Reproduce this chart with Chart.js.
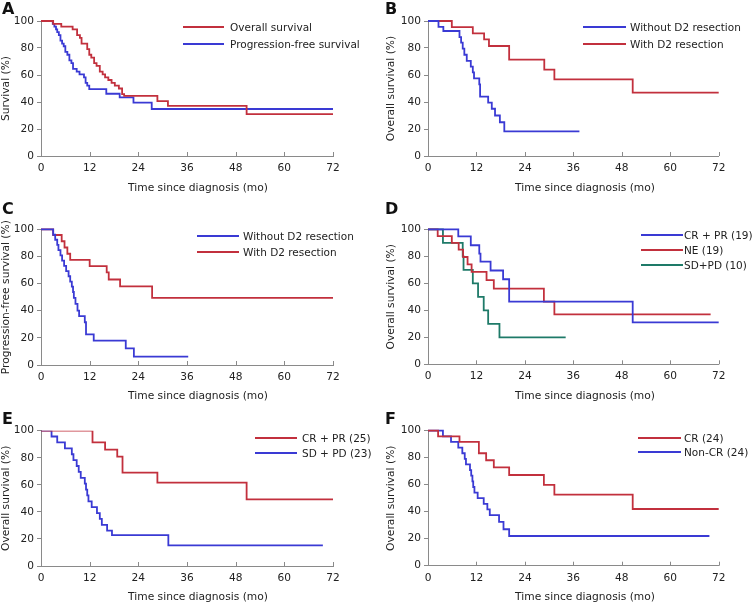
<!DOCTYPE html>
<html>
<head>
<meta charset="utf-8">
<script src="https://cdn.jsdelivr.net/npm/chart.js@4.4.0/dist/chart.umd.min.js"></script>
<style>
  body { margin: 0; background: #fff; }
  #fig { position: relative; width: 755px; height: 607px; font-family: "DejaVu Sans", Verdana, sans-serif; color: #222; overflow: hidden; }
  #fig canvas { position: absolute; }
  .lbl { position: absolute; font-weight: bold; font-size: 16px; line-height: 16px; color: #111; }
  .xt { position: absolute; font-size: 10.7px; line-height: 14px; white-space: nowrap; transform: translateX(-50%); }
  .lg { position: absolute; font-size: 10.5px; line-height: 14px; white-space: nowrap; }
  .sw { position: absolute; height: 2px; }
</style>
</head>
<body>
<div id="fig"></div>
<script>
// tick labels
const monthTicks = [0, 12, 24, 36, 48, 60, 72];
const survTicks = [0, 20, 40, 60, 80, 100];

// A - all patients: [month, survival %]
const osAll = [[0,100],[3,97.9],[5,95.8],[7.8,93.8],[8.9,89.6],[9.6,87.5],[10,83.3],[11.4,79.2],[11.9,75],[12.4,72.9],[13.1,68.8],[13.7,66.7],[14.5,62.5],[15.2,60.4],[15.8,58.3],[16.6,56.3],[17.4,54.2],[18.2,52.1],[19.2,50],[20,45.8],[20.5,44.5],[28.7,40.7],[31.3,37.1],[50.7,31],[72,31]];
const pfsAll = [[0,100],[2.9,97.9],[3.3,95.8],[3.7,93.8],[4,91.7],[4.4,89.6],[4.8,85.4],[5.2,83.3],[5.6,81.3],[6,77.1],[6.5,75],[7,70.8],[7.5,68.8],[7.9,64.6],[8.8,62.5],[9.5,60.4],[10.6,58.3],[11,54.2],[11.4,52.1],[11.9,49.6],[16.1,46.1],[19.4,43.5],[22.8,39.5],[27.3,34.8],[72,34.8]];

// B - overall survival by D2 resection
const osNoD2 = [[0,100],[2.6,95.7],[3.8,92.6],[7.8,88],[8.2,84],[8.6,79.5],[9,75],[9.6,70.5],[10.6,66.2],[11.1,62],[11.4,57.5],[12.7,53],[12.9,44],[14.9,39.5],[15.8,35],[16.6,30],[17.8,25],[18.9,18.3],[37.5,18.3]];
const osD2 = [[0,100],[5.9,95.5],[11.1,90.9],[13.9,86.4],[15.1,81.5],[20.1,71.4],[28.8,64],[31.3,56.8],[50.7,47],[72,47]];

// C - progression-free survival by D2 resection
const pfsNoD2 = [[0,100],[3,96],[3.5,92.3],[4,88.5],[4.3,84.6],[4.8,80.8],[5.2,76.9],[5.7,73.1],[6.2,69.2],[6.8,65.4],[7.2,61.5],[7.6,57.7],[7.9,53.8],[8.1,49.5],[8.5,45],[9,40],[9.4,36],[10.8,31.5],[11.1,22.5],[13,18],[20.9,12.2],[22.9,6.2],[36.3,6.2]];
const pfsD2 = [[0,100],[3,95.8],[5.1,91.2],[5.8,86.6],[6.5,82],[7.2,77.4],[12,72.8],[16.2,68.2],[16.7,63],[19.5,58],[27.4,49.5],[72,49.5]];

// D - response groups
const osCrPr19 = [[0,100],[7.5,94.7],[10.6,88.2],[12.7,82],[13,76],[15.5,69.5],[18.6,63],[20.1,46.5],[50.7,31],[72,31]];
const osNe19 = [[0,100],[2.4,95],[5.9,90],[7.6,85],[8.7,79.5],[9.8,74],[10.8,68.4],[14.5,62.3],[16.3,56],[28.7,46.5],[31.3,37],[70,37]];
const osSdPd10 = [[0,100],[3.7,90],[8.6,80],[8.8,70],[11.1,60],[12.4,50],[13.8,40],[14.9,30],[17.7,20],[34.1,20]];

// E
const osCrPr25 = [[0,100],[12.7,91.3],[15.8,86],[18.8,80.8],[20.1,69],[28.7,61.6],[50.7,49.3],[72,49.3]];
const osSdPd23 = [[0,100],[2.6,95.7],[4,91.3],[5.9,87],[7.6,82.6],[8,78.3],[8.8,73.9],[9.3,69.6],[9.8,65.2],[10.8,60.9],[11.1,56.5],[11.4,52.2],[11.7,47.8],[12.5,43.5],[13.8,39.1],[14.5,34.8],[15,30.4],[16.3,26.1],[17.5,22.8],[31.4,15.3],[69.5,15.3]];

// F
const osCr24 = [[0,100],[2.5,95.8],[7.8,91.7],[12.6,83.3],[14.4,78.1],[16.3,72.9],[20.1,67.2],[28.7,59.8],[31.3,52.6],[50.7,42],[72,42]];
const osNonCr24 = [[0,100],[3.7,95.8],[5.7,91.7],[7.5,87.5],[8.5,83.3],[9.1,79.2],[9.4,75],[10.4,70.8],[10.7,66.7],[11,62.5],[11.2,58.3],[11.5,54.2],[12.3,50],[13.8,45.8],[14.7,41.7],[15.3,37.5],[17.6,32.5],[18.7,27],[20.1,22],[69.7,22]];

const red = "#c2303d";
const blue = "#3a3ad4";
const teal = "#1e7a68";
const axisGray = "#8a8a8a";
const textCol = "#222";
const fontFam = "'DejaVu Sans', Verdana, sans-serif";
const fontSize = 10.6;
const xTitle = "Time since diagnosis (mo)";

const panels = [
  { letter: "A", left: 0, top: 0, w: 378, h: 200, padTop: 21, yw: 41, xh: 44, padRight: 45,
    yTitle: "Survival (%)", yTitlePad: 0, clip: 3,
    series: [["Overall survival", osAll, red], ["Progression-free survival", pfsAll, blue]],
    leg: { x: 183, y: 27, gap: 17, len: 41, tgap: 6 }, xt: { x: 198, y: 188 }, lab: { x: 2, y: 1 } },
  { letter: "B", left: 378, top: 0, w: 377, h: 200, padTop: 21, yw: 50, xh: 44, padRight: 36.3,
    yTitle: "Overall survival (%)", yTitlePad: 6.4, clip: 3,
    series: [["Without D2 resection", osNoD2, blue], ["With D2 resection", osD2, red]],
    leg: { x: 583, y: 27, gap: 17, len: 43, tgap: 4 }, xt: { x: 585, y: 188 }, lab: { x: 385, y: 1 } },
  { letter: "C", left: 0, top: 200, w: 378, h: 200, padTop: 29.3, yw: 41, xh: 35, padRight: 45,
    yTitle: "Progression-free survival (%)", yTitlePad: 0, clip: 3,
    series: [["Without D2 resection", pfsNoD2, blue], ["With D2 resection", pfsD2, red]],
    leg: { x: 197, y: 236, gap: 16, len: 42, tgap: 4 }, xt: { x: 198, y: 396 }, lab: { x: 2, y: 201 } },
  { letter: "D", left: 378, top: 200, w: 377, h: 200, padTop: 29.3, yw: 50, xh: 35.7, padRight: 36.3,
    yTitle: "Overall survival (%)", yTitlePad: 6.4, clip: 3,
    series: [["CR + PR (19)", osCrPr19, blue], ["NE (19)", osNe19, red], ["SD+PD (10)", osSdPd10, teal]],
    leg: { x: 641, y: 234.5, gap: 15, len: 42, tgap: 1 }, xt: { x: 585, y: 396 }, lab: { x: 385, y: 201 } },
  // E: the top segment is drawn thin in the original, so keep default clipping
  { letter: "E", left: 0, top: 400, w: 378, h: 207, padTop: 30.7, yw: 41, xh: 41, padRight: 45,
    yTitle: "Overall survival (%)", yTitlePad: 0, clip: undefined,
    series: [["CR + PR (25)", osCrPr25, red], ["SD + PD (23)", osSdPd23, blue]],
    leg: { x: 255, y: 438, gap: 14.5, len: 42, tgap: 5 }, xt: { x: 198, y: 597 }, lab: { x: 2, y: 411 } },
  { letter: "F", left: 378, top: 400, w: 377, h: 207, padTop: 30.7, yw: 50, xh: 41.3, padRight: 36.3,
    yTitle: "Overall survival (%)", yTitlePad: 6.4, clip: 3,
    series: [["CR (24)", osCr24, red], ["Non-CR (24)", osNonCr24, blue]],
    leg: { x: 638, y: 437.5, gap: 14.5, len: 43, tgap: 3 }, xt: { x: 585, y: 597 }, lab: { x: 385, y: 411 } }
];

// x ticks point up into the plot in the original
const innerTicks = {
  id: "innerTicks",
  afterDraw(chart) {
    const xs = chart.scales.x;
    const ctx = chart.ctx;
    const b = chart.chartArea.bottom;
    ctx.save();
    ctx.strokeStyle = axisGray;
    ctx.lineWidth = 1;
    ctx.beginPath();
    xs.ticks.forEach(t => {
      if (t.value === 0) return;
      const px = Math.round(xs.getPixelForValue(t.value)) + 0.5;
      ctx.moveTo(px, b);
      ctx.lineTo(px, b - 4);
    });
    ctx.stroke();
    ctx.restore();
  }
};

const fig = document.getElementById("fig");

function addDiv(cls, text, x, y) {
  const d = document.createElement("div");
  d.className = cls;
  d.textContent = text;
  d.style.left = x + "px";
  d.style.top = y + "px";
  fig.appendChild(d);
  return d;
}

function buildPanel(p) {
  const cv = document.createElement("canvas");
  cv.width = p.w;
  cv.height = p.h;
  cv.style.left = p.left + "px";
  cv.style.top = p.top + "px";
  fig.appendChild(cv);

  new Chart(cv, {
    type: "scatter",
    data: {
      datasets: p.series.map(([label, pts, color]) => ({
        label: label,
        data: pts.map(([t, s]) => ({ x: t, y: s })),
        borderColor: color,
        backgroundColor: color,
        showLine: true,
        stepped: true,
        borderWidth: 1.8,
        pointRadius: 0,
        fill: false,
        clip: p.clip
      }))
    },
    options: {
      responsive: false,
      animation: false,
      layout: { padding: { left: 0, top: p.padTop, right: p.padRight, bottom: 0 } },
      plugins: { legend: { display: false }, tooltip: { enabled: false } },
      scales: {
        x: {
          type: "linear", min: 0, max: 72,
          afterBuildTicks: sc => { sc.ticks = monthTicks.map(v => ({ value: v })); },
          afterFit: sc => { sc.height = p.xh; },
          grid: { display: true, drawOnChartArea: false, drawTicks: false },
          border: { display: true, color: axisGray, width: 1 },
          ticks: { color: textCol, font: { family: fontFam, size: fontSize }, padding: 6, maxRotation: 0, autoSkip: false }
        },
        y: {
          type: "linear", min: 0, max: 100,
          afterBuildTicks: sc => { sc.ticks = survTicks.map(v => ({ value: v })); },
          afterFit: sc => { sc.width = p.yw; },
          grid: { display: true, drawOnChartArea: false, drawTicks: true, tickLength: 4, color: axisGray },
          border: { display: true, color: axisGray, width: 1 },
          ticks: { color: textCol, font: { family: fontFam, size: fontSize }, padding: 3, autoSkip: false },
          title: { display: true, text: p.yTitle, color: textCol, font: { family: fontFam, size: 10.7 }, padding: { top: p.yTitlePad, bottom: 0 } }
        }
      }
    },
    plugins: [innerTicks]
  });

  // panel letter, x title, legend
  addDiv("lbl", p.letter, p.lab.x, p.lab.y);
  addDiv("xt", xTitle, p.xt.x, p.xt.y - 7);
  p.series.forEach(([label, , color], i) => {
    const y = p.leg.y + i * p.leg.gap;
    const sw = addDiv("sw", "", p.leg.x, y - 1);
    sw.style.width = p.leg.len + "px";
    sw.style.background = color;
    addDiv("lg", label, p.leg.x + p.leg.len + p.leg.tgap, y - 7);
  });
}

panels.forEach(buildPanel);
</script>
</body>
</html>
